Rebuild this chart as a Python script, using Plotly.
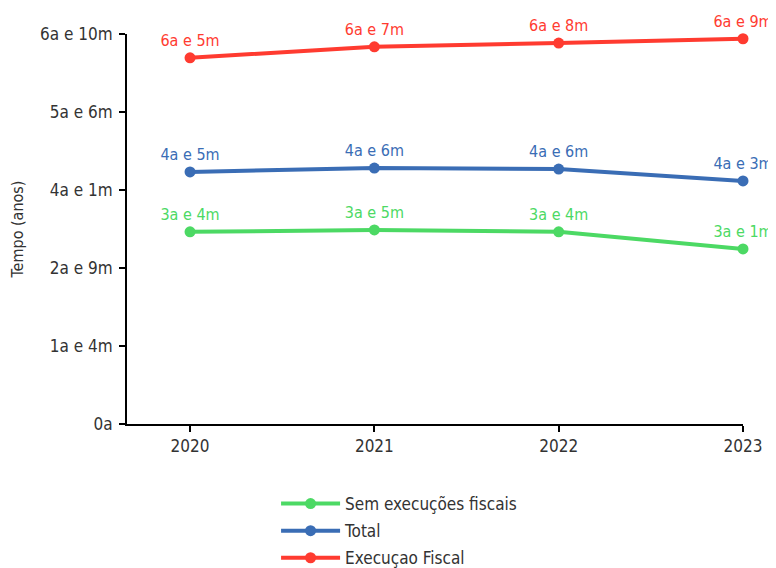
import plotly.graph_objects as go

# data (months)
anos = [2020, 2021, 2022, 2023]
sem_exec = [40.4, 40.8, 40.4, 36.8]
total = [53.0, 53.8, 53.6, 51.1]
exec_fiscal = [77.0, 79.3, 80.1, 81.0]

sem_labels = ["3a e 4m", "3a e 5m", "3a e 4m", "3a e 1m"]
total_labels = ["4a e 5m", "4a e 6m", "4a e 6m", "4a e 3m"]
exec_labels = ["6a e 5m", "6a e 7m", "6a e 8m", "6a e 9m"]

y_tickvals = [0, 16.4, 32.8, 49.2, 65.6, 82]
y_ticktext = ["0a", "1a e 4m", "2a e 9m", "4a e 1m", "5a e 6m", "6a e 10m"]

FONT = "Liberation Sans Narrow, DejaVu Sans Condensed, Roboto, sans-serif"

series = [
    ("Sem execuções fiscais", sem_exec, sem_labels, "#4cd964"),
    ("Total", total, total_labels, "#3a6db5"),
    ("Execuçao Fiscal", exec_fiscal, exec_labels, "#ff3b30"),
]

fig = go.Figure()
for i, (name, vals, labels, color) in enumerate(series):
    fig.add_trace(go.Scatter(
        x=anos, y=vals, name=name, mode="lines+markers+text",
        legendgroup=f"g{i}",
        text=labels, textposition="top center",
        textfont=dict(color=color, size=16, family=FONT),
        line=dict(color=color, width=4),
        marker=dict(color=color, size=11),
        cliponaxis=False,
    ))

# page is offset by the 8px body margin, so the figure is 768x560
fig.update_layout(
    width=768, height=560,
    paper_bgcolor="white", plot_bgcolor="white",
    margin=dict(l=119, r=33, t=26, b=144, autoexpand=False),
    font=dict(family=FONT, size=16, color="#333333"),
    legend=dict(orientation="v", x=0.242, xanchor="left", y=-0.159, yanchor="top",
                traceorder="grouped", tracegroupgap=2, itemwidth=59,
                font=dict(size=17, color="#333333")),
)
fig.update_xaxes(
    range=[2019.658, 2023], tickvals=anos, showgrid=False, zeroline=False,
    showline=True, linecolor="black", linewidth=2,
    ticks="outside", ticklen=6, tickwidth=2, tickcolor="black",
    tickfont=dict(size=17),
)
fig.update_yaxes(
    range=[0, 82], tickvals=y_tickvals, ticktext=y_ticktext,
    showgrid=False, zeroline=False,
    showline=True, linecolor="black", linewidth=2,
    ticks="outside", ticklen=6, tickwidth=2, tickcolor="black",
    ticklabelstandoff=3,
    tickfont=dict(size=17),
    title=dict(text="Tempo (anos)", font=dict(size=16), standoff=12),
)

fig.write_html("out.html")
